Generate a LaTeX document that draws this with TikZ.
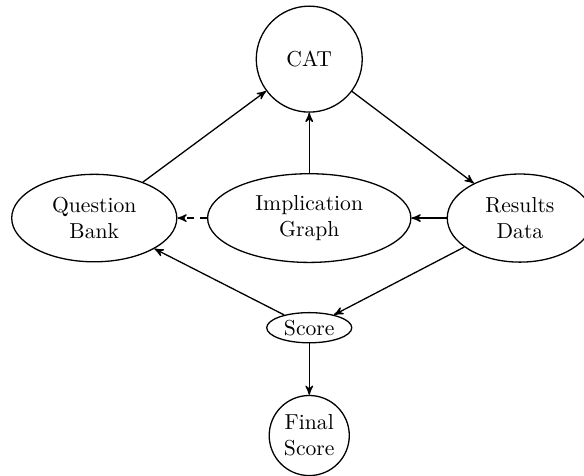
\documentclass[tikz,border=0pt]{standalone}
\usepackage{amsmath}
\usepackage{amssymb}
\usetikzlibrary{shapes.geometric,arrows}

\begin{document}
\begin{tikzpicture}[>=stealth', semithick,
    bubble/.style={draw, ellipse, inner sep=0pt, align=center},
    ball/.style={draw, circle, inner sep=0pt, align=center}]
            \useasboundingbox (-5.02,-4.18) rectangle (4.46,3.54);

            \node[ball, minimum size=1.72cm] (cat) at (0,2.58) {CAT};
            \node[bubble, minimum width=2.68cm, minimum height=1.42cm] (bank) at (-3.49,0) {Question\\Bank};
            \node[bubble, minimum width=3.30cm, minimum height=1.44cm] (graph) at (0,0) {Implication\\Graph};
            \node[bubble, minimum width=2.36cm, minimum height=1.43cm] (results) at (3.42,0) {Results\\Data};
            \node[bubble, minimum width=1.38cm, minimum height=0.49cm] (score) at (0,-1.78) {Score};
            \node[ball, minimum size=1.30cm] (final) at (0,-3.53) {Final\\Score};

            \draw[->] (bank) -- (cat);
            \draw[->] (graph) -- (cat);
            \draw[->] (cat) -- (results);
            \draw[->] (results) -- (graph);
            \draw[->, dashed] (graph) -- (bank);
            \draw[->] (results) -- (score);
            \draw[->] (score) -- (bank);
            \draw[->] (score) -- (final);
        \end{tikzpicture}
\end{document}
